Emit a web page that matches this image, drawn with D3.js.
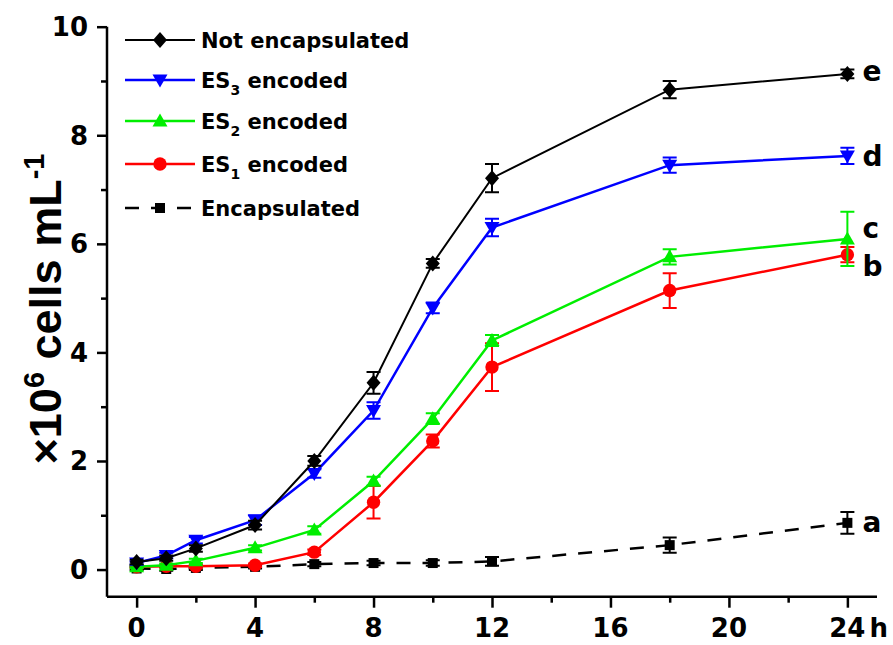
<!DOCTYPE html>
<html>
<head>
<meta charset="utf-8">
<script src="https://cdn.jsdelivr.net/npm/d3@7"></script>
<style>
  body { margin: 0; background: #fff; }
  svg text { font-family: "DejaVu Sans", sans-serif; font-weight: bold; fill: #000; }
</style>
</head>
<body>
<div id="container"></div>
<script>
//time points (h)
var hours = [0, 1, 2, 4, 6, 8, 10, 12, 18, 24];

//series values (x10^6 cells/mL) and their error bars
var notEncVals = [0.14, 0.21, 0.39, 0.82, 2.0, 3.44, 5.64, 7.21, 8.84, 9.13];
var notEncErr  = [0.04, 0.05, 0.06, 0.08, 0.09, 0.2, 0.08, 0.26, 0.16, 0.08];
var es3Vals    = [0.12, 0.26, 0.54, 0.91, 1.77, 2.93, 4.82, 6.3, 7.45, 7.62];
var es3Err     = [0.03, 0.05, 0.06, 0.09, 0.08, 0.15, 0.1, 0.16, 0.14, 0.15];
var es2Vals    = [0.05, 0.08, 0.16, 0.4, 0.73, 1.63, 2.78, 4.22, 5.76, 6.09];
var es2Err     = [0.02, 0.03, 0.04, 0.05, 0.07, 0.08, 0.1, 0.1, 0.14, 0.5];
var es1Vals    = [0.05, 0.06, 0.06, 0.08, 0.32, 1.24, 2.37, 3.73, 5.14, 5.8];
var es1Err     = [0.02, 0.02, 0.03, 0.03, 0.05, 0.3, 0.12, 0.44, 0.32, 0.14];
var encVals    = [0.02, 0.01, 0.03, 0.05, 0.1, 0.12, 0.12, 0.15, 0.45, 0.86];
var encErr     = [0.03, 0.03, 0.04, 0.03, 0.04, 0.04, 0.05, 0.08, 0.14, 0.2];

//legend names and colours
var seriesNames  = ["Not encapsulated", "ES3 encoded", "ES2 encoded", "ES1 encoded", "Encapsulated"];
var seriesColors = ["#000000", "#0000ff", "#00ee00", "#ff0000", "#000000"];

//significance letters next to the 24 h points
var groupLetters = ["e", "d", "c", "b", "a"];

//tick labels
var xTicks = [0, 4, 8, 12, 16, 20, 24];
var yTicks = [0, 2, 4, 6, 8, 10];

window.onload = drawChart;

function drawChart() {
    var width = 893, height = 645;

    var svg = d3.select("#container")
        .append("svg")
        .attr("width", width)
        .attr("height", height);

    var x = d3.scaleLinear().domain([-1, 25]).range([107, 877]);
    var y = d3.scaleLinear().domain([-0.5, 10]).range([596.7, 26.7]);

    var allVals = [notEncVals, es3Vals, es2Vals, es1Vals, encVals];
    var allErr = [notEncErr, es3Err, es2Err, es1Err, encErr];
    var shapes = ["diamond", "down", "up", "circle", "square"];

    //marker paths centred on 0,0
    function marker(shape) {
        if (shape == "diamond") return "M0,-8L7,0L0,8L-7,0Z";
        if (shape == "down") return "M-7.5,-5.5L7.5,-5.5L0,7.5Z";
        if (shape == "up") return "M-7.5,5.5L7.5,5.5L0,-7.5Z";
        if (shape == "square") return "M-5,-5H5V5H-5Z";
        return d3.symbol(d3.symbolCircle, 140)();
    }

    //axes
    var xAxis = d3.axisBottom(x).tickValues(d3.range(0, 25, 2)).tickSize(11).tickFormat("");
    var gx = svg.append("g").attr("transform", "translate(0,596.7)").call(xAxis);
    var yAxis = d3.axisLeft(y).tickValues(d3.range(0, 11, 1)).tickSize(10).tickFormat("");
    var gy = svg.append("g").attr("transform", "translate(107,0)").call(yAxis);

    [gx, gy].forEach(function (g) {
        g.select(".domain").attr("stroke", "#000").attr("stroke-width", 2.5);
        g.selectAll(".tick line").attr("stroke", "#000").attr("stroke-width", 2.5);
    });
    gx.select(".domain").attr("d", "M107,0H877");
    gy.select(".domain").attr("d", "M0,26.7V596.7");
    gx.selectAll(".tick line").filter(function (d) { return d % 4 != 0; }).attr("y2", 6);
    gy.selectAll(".tick line").filter(function (d) { return d % 2 != 0; }).attr("x2", -6);

    svg.selectAll(".xlab")
        .data(xTicks)
        .enter()
        .append("text")
        .attr("class", "xlab")
        .attr("x", function (d) { return x(d); })
        .attr("y", 637)
        .attr("text-anchor", "middle")
        .style("font-size", "26px")
        .text(function (d) { return d; });

    svg.append("text")
        .attr("x", x(24) + 22)
        .attr("y", 637)
        .style("font-size", "26px")
        .text("h");

    svg.selectAll(".ylab")
        .data(yTicks)
        .enter()
        .append("text")
        .attr("class", "ylab")
        .attr("x", 88)
        .attr("y", function (d) { return y(d) + 9.5; })
        .attr("text-anchor", "end")
        .style("font-size", "26px")
        .text(function (d) { return d; });

    //y axis title
    var title = svg.append("text")
        .attr("transform", "translate(61,309) rotate(-90)")
        .attr("text-anchor", "middle")
        .style("font-family", "'Liberation Sans', Arial, sans-serif")
        .style("font-size", "45px");
    title.append("tspan").text("\u00d710");
    title.append("tspan").attr("dy", -17).style("font-size", "29px").text("6");
    title.append("tspan").attr("dy", 17).text(" cells mL");
    title.append("tspan").attr("dy", -17).style("font-size", "29px").text("-1");

    //series, drawn back to front
    var line = d3.line()
        .x(function (d) { return x(d.t); })
        .y(function (d) { return y(d.v); });

    for (var s = 4; s >= 0; s--) {
        var pts = hours.map(function (h, i) {
            return { t: h, v: allVals[s][i], e: allErr[s][i] };
        });
        var col = seriesColors[s];
        var g = svg.append("g");

        g.append("path")
            .datum(pts)
            .attr("d", line)
            .attr("fill", "none")
            .attr("stroke", col)
            .attr("stroke-width", s == 0 ? 2 : 2.5)
            .attr("stroke-dasharray", s == 4 ? "14,12" : null);

        //error bars
        g.selectAll(".err")
            .data(pts)
            .enter()
            .append("path")
            .attr("d", function (d) {
                var cx = x(d.t), top = y(d.v + d.e), bot = y(d.v - d.e);
                return "M" + cx + "," + top + "V" + bot +
                    "M" + (cx - 7) + "," + top + "H" + (cx + 7) +
                    "M" + (cx - 7) + "," + bot + "H" + (cx + 7);
            })
            .attr("fill", "none")
            .attr("stroke", col)
            .attr("stroke-width", 2);

        g.selectAll(".mk")
            .data(pts)
            .enter()
            .append("path")
            .attr("d", marker(shapes[s]))
            .attr("transform", function (d) { return "translate(" + x(d.t) + "," + y(d.v) + ")"; })
            .attr("fill", col);
    }

    //letters beside the 24 h points
    var letterNudge = [7, 10, -1, 21, 9];
    svg.selectAll(".grp")
        .data(groupLetters)
        .enter()
        .append("text")
        .attr("class", "grp")
        .attr("x", x(24) + 15)
        .attr("y", function (d, i) {
            var v = allVals[i][allVals[i].length - 1];
            return y(v) + letterNudge[i];
        })
        .style("font-size", "28px")
        .text(function (d) { return d; });

    //legend
    var legend = svg.append("g");
    var rowY = [40, 80, 121, 164, 208];
    seriesNames.forEach(function (name, i) {
        var ly = rowY[i];
        legend.append("path")
            .attr("d", "M125," + ly + "H195")
            .attr("stroke", seriesColors[i])
            .attr("stroke-width", i == 0 ? 2 : 2.5)
            .attr("stroke-dasharray", i == 4 ? "14,12" : null);
        legend.append("path")
            .attr("d", marker(shapes[i]))
            .attr("transform", "translate(160," + ly + ")")
            .attr("fill", seriesColors[i]);
        var t = legend.append("text")
            .attr("x", 201)
            .attr("y", ly + 8)
            .style("font-size", "21px");
        if (name.indexOf("ES") == 0) {
            t.append("tspan").text("ES");
            t.append("tspan").attr("dy", 7).style("font-size", "14px").text(name.charAt(2));
            t.append("tspan").attr("dy", -7).text(name.slice(3));
        } else {
            t.text(name);
        }
    });
}
</script>
</body>
</html>
